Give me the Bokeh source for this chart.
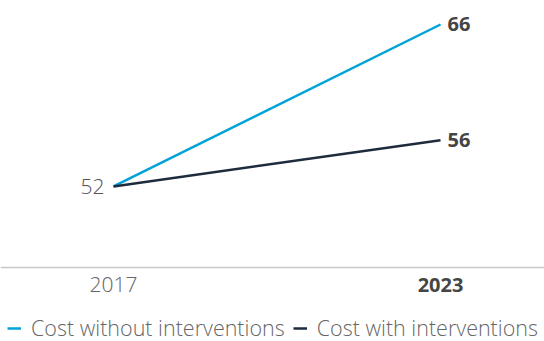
from bokeh.plotting import figure
from bokeh.models import ColumnDataSource, Span, Legend, LegendItem, Range1d
from bokeh.core.properties import value
from bokeh.embed import file_html
from bokeh.resources import INLINE

# ---- data ----
years = ["2017", "2023"]
cost_without = [52, 66]
cost_with = [52, 56]
series_names = ["Cost without interventions", "Cost with interventions"]
baseline_value = 45

CYAN = "#00A3D6"
DARK = "#1E2B3C"
FONT = "'Open Sans Light', 'Open Sans'"
FONT_BOLD = "Open Sans"

xs = list(range(len(years)))

p = figure(width=544, height=341, output_backend="svg", toolbar_location=None,
           x_axis_type=None, y_axis_type=None,
           x_range=Range1d(-0.3456, 1.318), y_range=Range1d(38.60, 68.074),
           min_border=0, min_border_left=0, min_border_right=0,
           min_border_top=0, min_border_bottom=0)
p.outline_line_color = None
p.background_fill_color = "white"
p.border_fill_color = "white"
p.xgrid.visible = False
p.ygrid.visible = False

# baseline axis line
p.add_layout(Span(location=baseline_value, dimension="width",
                  line_color="#c8c8c8", line_width=1.5))

r1 = p.line(xs, cost_without, line_color=CYAN, line_width=2.5)
r2 = p.line(xs, cost_with, line_color=DARK, line_width=2.5)

# start label (2017 shared value)
p.text(x=[xs[0]], y=[cost_without[0]], text=[str(cost_without[0])],
       text_font=value(FONT), text_font_size="21px", text_color="#555555",
       text_align="right", text_baseline="middle", x_offset=-9)

# end labels (bold)
p.text(x=[xs[-1], xs[-1]], y=[cost_without[-1], cost_with[-1]],
       text=[str(cost_without[-1]), str(cost_with[-1])],
       text_font=value(FONT_BOLD), text_font_size="20px", text_font_style="bold",
       text_color="#454545", text_align="left", text_baseline="middle", x_offset=7)

# category labels
tick_y = baseline_value - 1.5
p.text(x=[xs[0]], y=[tick_y], text=[years[0]],
       text_font=value(FONT), text_font_size="21px", text_color="#666666",
       text_align="center", text_baseline="middle")
p.text(x=[xs[1]], y=[tick_y], text=[years[1]],
       text_font=value(FONT_BOLD), text_font_size="20px", text_font_style="bold",
       text_color="#454545", text_align="center", text_baseline="middle")

legend = Legend(items=[LegendItem(label=series_names[0], renderers=[r1]),
                       LegendItem(label=series_names[1], renderers=[r2])],
                orientation="horizontal", location=(7, -1),
                glyph_width=14, glyph_height=16, label_standoff=10, spacing=8,
                padding=0, margin=0,
                label_text_font=FONT, label_text_font_size="21.5px",
                label_text_color="#666666",
                border_line_color=None, background_fill_alpha=0)
p.add_layout(legend)

open("out.html", "w").write(file_html(p, INLINE))
